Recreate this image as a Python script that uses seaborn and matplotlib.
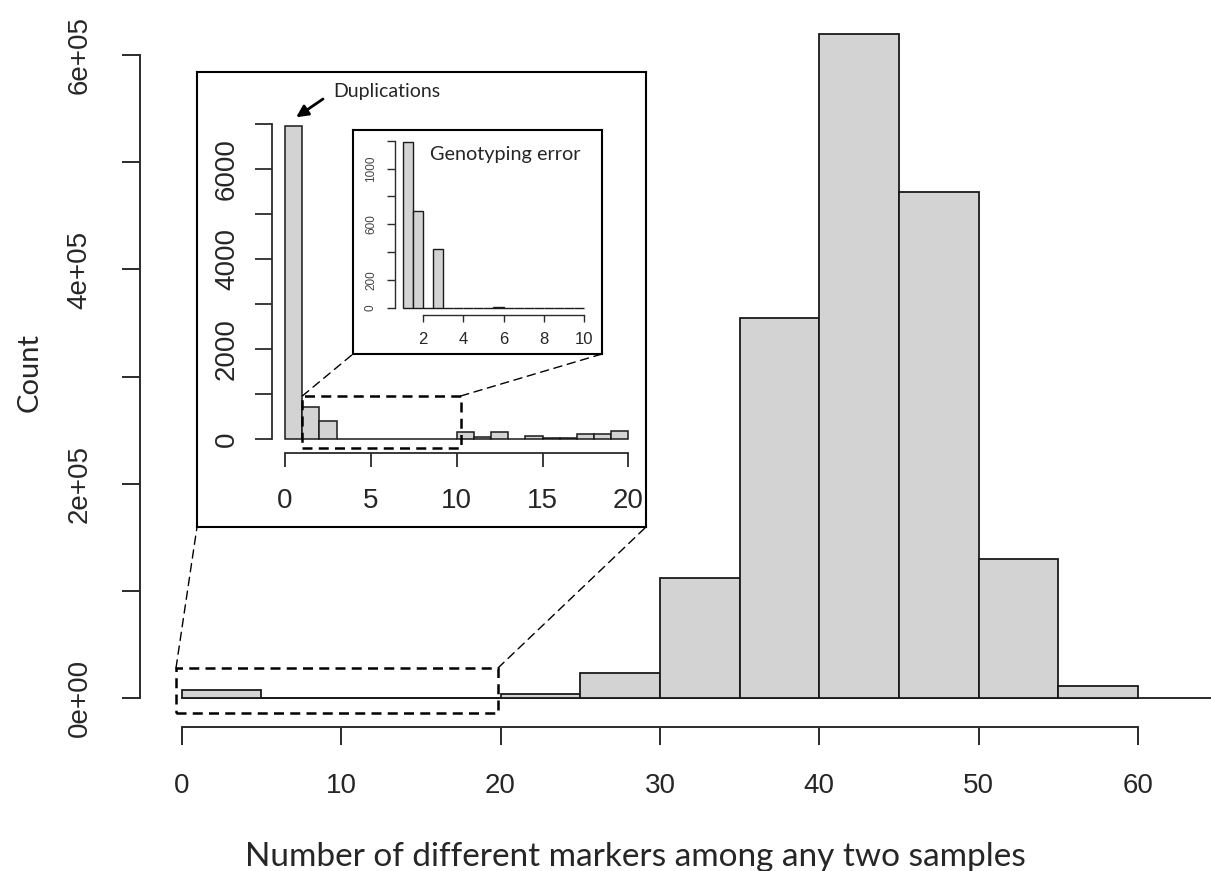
import numpy as np
import pandas as pd
import matplotlib
matplotlib.use("Agg")
import matplotlib.pyplot as plt
from matplotlib.patches import Rectangle, ConnectionPatch
import seaborn as sns

# Données
main_edges = [0, 5, 10, 15, 20, 25, 30, 35, 40, 45, 50, 55, 60]
main_counts = [7800, 0, 410, 465, 4000, 24000, 112000, 354500, 620000, 472000, 130000, 11200]
main_xticks = [0, 10, 20, 30, 40, 50, 60]
main_yticks = [0, 100000, 200000, 300000, 400000, 500000, 600000]
main_ylabels = ["0e+00", "", "2e+05", "", "4e+05", "", "6e+05"]

zoom1_edges = list(range(0, 21))
zoom1_counts = [6950, 704, 407, 0, 0, 5, 0, 0, 0, 0, 148, 40, 148, 0, 75, 30, 30, 110, 110, 185]
zoom1_xticks = [0, 5, 10, 15, 20]
zoom1_yticks = [0, 1000, 2000, 3000, 4000, 5000, 6000, 7000]
zoom1_ylabels = ["0", "", "2000", "", "4000", "", "6000", ""]

zoom2_edges = [1, 1.5, 2, 2.5, 3, 3.5, 4, 4.5, 5, 5.5, 6, 6.5, 7, 7.5, 8, 8.5, 9, 9.5, 10]
zoom2_counts = [1195, 696, 0, 420, 0, 0, 0, 0, 0, 5, 0, 0, 0, 0, 0, 0, 0, 0]
zoom2_xticks = [2, 4, 6, 8, 10]
zoom2_yticks = [0, 200, 400, 600, 800, 1000, 1200]
zoom2_ylabels = ["0", "200", "", "600", "", "1000", ""]

sns.set_style("white")
plt.rcParams["font.family"] = ["Liberation Sans", "DejaVu Sans"]
label_font = ["Lato", "DejaVu Sans"]

W, H = 1211, 871
fig = plt.figure(figsize=(W / 100, H / 100), dpi=100)


def fig_rect(l, t, r, b):
    return [l / W, 1 - b / H, (r - l) / W, (b - t) / H]


def draw_hist(ax, edges, counts, lw):
    e = np.asarray(edges, dtype=float)
    df = pd.DataFrame({"x": (e[:-1] + e[1:]) / 2, "n": counts})
    sns.histplot(data=df, x="x", weights="n", bins=list(edges), ax=ax, color="#D3D3D3",
                 edgecolor="#1a1a1a", linewidth=lw, alpha=1)
    ax.set_xlabel("")
    ax.set_ylabel("")


def style_axes(ax, xb, yb, lw, tick_len_x, tick_len_y, pad_x, pad_y, fs_x, fs_y):
    for s in ["top", "right"]:
        ax.spines[s].set_visible(False)
    for s in ["left", "bottom"]:
        ax.spines[s].set_linewidth(lw)
        ax.spines[s].set_color("#2b2b2b")
    ax.spines["bottom"].set_bounds(*xb)
    ax.spines["left"].set_bounds(*yb)
    ax.tick_params(axis="x", length=tick_len_x, width=lw, color="#2b2b2b",
                   pad=pad_x, labelsize=fs_x, direction="out", bottom=True)
    ax.tick_params(axis="y", length=tick_len_y, width=lw, color="#2b2b2b",
                   pad=pad_y, labelsize=fs_y, direction="out", left=True)
    ax.set_facecolor("none")
    ax.grid(False)


def frame_axes(rect, z):
    f = fig.add_axes(rect, zorder=z)
    f.set_xticks([])
    f.set_yticks([])
    for s in f.spines.values():
        s.set_visible(True)
        s.set_linewidth(1.5)
        s.set_color("black")
    f.set_facecolor("white")
    return f


# --- graphique principal ---
ax = fig.add_axes(fig_rect(140, 20, 1211, 727))
draw_hist(ax, main_edges, main_counts, 1.3)
x0, xs = 181.7, 15.94
y0, ys = 698.3, 107.2 / 100000
ax.set_xlim((140 - x0) / xs, (1211 - x0) / xs)
ax.set_ylim((y0 - 727) / ys, (y0 - 20) / ys)
xl = ax.get_xlim()
ax.axhline(0, xmin=(0 - xl[0]) / (xl[1] - xl[0]), color="#1a1a1a", lw=1.3, zorder=0)
ax.set_xticks(main_xticks)
ax.set_xticklabels([str(t) for t in main_xticks])
ax.set_yticks(main_yticks)
ax.set_yticklabels(main_ylabels, rotation=90, va="center")
style_axes(ax, (0, 60), (0, 600000), 1.4, 13, 13, 20, 21, 20, 20)

rect_main = Rectangle(((176 - x0) / xs, (y0 - 713) / ys), (498 - 176) / xs, (713 - 668) / ys,
                      fill=False, ls=(0, (4, 2.5)), lw=1.8, ec="black", zorder=5, clip_on=False)
ax.add_patch(rect_main)

fig.text(30 / W, 1 - 372 / H, "Count", rotation=90, ha="center", va="center",
         fontsize=21, family=label_font)
fig.text(635 / W, 1 - 857 / H, "Number of different markers among any two samples",
         ha="center", va="center", fontsize=24, family=label_font)

# --- premier encart ---
frame1 = frame_axes(fig_rect(197, 72, 646, 527), 2)

ax1 = fig.add_axes(fig_rect(272, 85, 640, 453), zorder=3)
draw_hist(ax1, zoom1_edges, zoom1_counts, 1.1)
a0, as_ = 285, 17.17
b0, bs = 439, 0.045
ax1.set_xlim((272 - a0) / as_, (640 - a0) / as_)
ax1.set_ylim((b0 - 453) / bs, (b0 - 85) / bs)
ax1.set_xticks(zoom1_xticks)
ax1.set_xticklabels([str(t) for t in zoom1_xticks])
ax1.set_yticks(zoom1_yticks)
ax1.set_yticklabels(zoom1_ylabels, rotation=90, va="center")
style_axes(ax1, (0, 20), (0, 7000), 1.3, 10, 12, 15, 11, 20, 20)

rect1 = Rectangle(((302.3 - a0) / as_, (b0 - 447.7) / bs), (460.7 - 302.3) / as_, (447.7 - 396) / bs,
                  fill=False, ls=(0, (4, 2.5)), lw=1.8, ec="black", zorder=5, clip_on=False)
ax1.add_patch(rect1)

# --- second encart ---
frame2 = frame_axes(fig_rect(353, 130, 602, 354), 4)

ax2 = fig.add_axes(fig_rect(395, 136, 596, 315), zorder=5)
draw_hist(ax2, zoom2_edges, zoom2_counts, 1.0)
c0, cs = 382.3, 20.2
d0, ds = 307.7, 0.139
ax2.set_xlim((395 - c0) / cs, (596 - c0) / cs)
ax2.set_ylim((d0 - 315) / ds, (d0 - 136) / ds)
ax2.set_xticks(zoom2_xticks)
ax2.set_xticklabels([str(t) for t in zoom2_xticks])
ax2.set_yticks(zoom2_yticks)
ax2.set_yticklabels(zoom2_ylabels, rotation=90, va="center", color="#444444")
style_axes(ax2, (2, 10), (0, 1200), 1.0, 5, 6, 7, 7, 12, 8.5)
ax2.text((505 - c0) / cs, (d0 - 155) / ds, "Genotyping error", ha="center", va="center",
         fontsize=14.3, family=label_font)

# flèche "Duplications"
fig.text(333 / W, 1 - 91 / H, "Duplications", ha="left", va="center",
         fontsize=14, family=label_font, zorder=10)
ax1.annotate("", xy=(zoom1_edges[1] - 0.35, zoom1_counts[0] + 200),
             xytext=((323 - a0) / as_, (b0 - 99) / bs),
             arrowprops=dict(arrowstyle="-|>,head_length=0.7,head_width=0.35", color="black",
                             lw=2, shrinkA=0, shrinkB=0),
             annotation_clip=False)

# lignes de zoom
conn_kw = dict(ls=(0, (6, 4)), lw=1.0, color="black", zorder=20)
for r, src, dst in [(rect_main, ax, frame1), (rect1, ax1, frame2)]:
    top = r.get_y() + r.get_height()
    fig.add_artist(ConnectionPatch(xyA=(r.get_x(), top), coordsA=src.transData,
                                   xyB=(0, 0), coordsB=dst.transAxes, **conn_kw))
    fig.add_artist(ConnectionPatch(xyA=(r.get_x() + r.get_width(), top), coordsA=src.transData,
                                   xyB=(1, 0), coordsB=dst.transAxes, **conn_kw))

fig.savefig("out.png", dpi=100)
